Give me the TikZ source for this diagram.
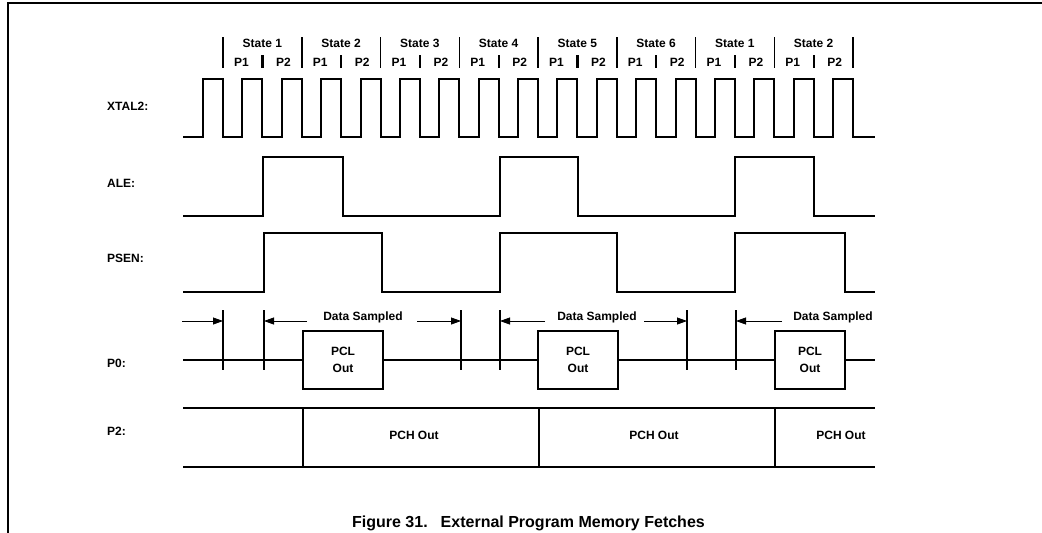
\documentclass[tikz,border=0pt]{standalone}
\usepackage{fontspec}
\setmainfont{Liberation Sans}
\usetikzlibrary{arrows.meta}
\begin{document}
\begin{tikzpicture}[x=1pt,y=-1pt,
  sig/.style={line width=2pt, line join=miter},
  bar/.style={line width=1.5pt},
  hbar/.style={line width=2.2pt},
  dim/.style={line width=0.8pt, -{Triangle[length=10pt,width=7pt]}},
  small/.style={font=\fontsize{12}{14}\selectfont\bfseries, inner sep=0pt, text height=8.6pt, text depth=0pt},
  sig label/.style={font=\fontsize{12}{14}\selectfont\bfseries, inner sep=0pt, anchor=west, text height=8.6pt, text depth=0pt},
  pclbox/.style={draw, line width=2pt, minimum height=58pt, inner sep=0pt, align=center,
     font=\fontsize{12}{16.5}\selectfont\bfseries},
  caption/.style={font=\fontsize{16}{18}\selectfont\bfseries, inner sep=0pt, text height=11.5pt, text depth=0pt}
]
\useasboundingbox (0,0) rectangle (1042,533);
% frame
\draw[line width=1.8pt] (8,533) -- (8,3) -- (1042,3);

% header
\foreach \i/\n in {0/1,1/2,2/3,3/4,4/5,5/6,6/1,7/2} {
  \pgfmathsetmacro\d{223+78.75*\i}
  \draw[bar] (\d,37) -- (\d,68);
  \draw[hbar] (\d+39.4,55) -- (\d+39.4,68);
  \node[small] (st\i) at (\d+39.4,43) {State \n};
  \node[small] (pa\i) at (\d+18.5,62) {P1};
  \node[small] (pb\i) at (\d+60.5,62) {P2};
}
\draw[bar] (853,37) -- (853,68);

% labels
\node[sig label] (lx) at (107,106) {XTAL2:};
\node[sig label] (la) at (107,183) {ALE:};
\node[sig label] (lp) at (107,258) {PSEN:};
\node[sig label] (l0) at (107,363) {P0:};
\node[sig label] (l2) at (107,431) {P2:};

% XTAL2 clock
\draw[sig] (183,137)
  \foreach \k in {0,...,16} {
    -- ({223+39.375*\k-20},137) -- ({223+39.375*\k-20},79)
    -- ({223+39.375*\k},79) -- ({223+39.375*\k},137)
  } -- (875,137);

% ALE
\draw[sig] (183,216) -- (263,216) -- (263,157) -- (343,157) -- (343,216)
  -- (500,216) -- (500,157) -- (578,157) -- (578,216)
  -- (735,216) -- (735,157) -- (814,157) -- (814,216) -- (875,216);

% PSEN
\draw[sig] (183,292) -- (264,292) -- (264,233) -- (382,233) -- (382,292)
  -- (500,292) -- (500,233) -- (617,233) -- (617,292)
  -- (735,292) -- (735,233) -- (845,233) -- (845,292) -- (875,292);

% P0
\node[pclbox, minimum width=80pt] (b1) at (343,360) {PCL\\Out};
\node[pclbox, minimum width=80pt] (b2) at (578,360) {PCL\\Out};
\node[pclbox, minimum width=70pt] (b3) at (810,360) {PCL\\Out};
\coordinate (p0s) at (183,360);
\coordinate (p0e) at (875,360);
\draw[sig] (p0s) -- (b1.west);
\draw[sig] (b1.east) -- (b2.west);
\draw[sig] (b2.east) -- (b3.west);
\draw[sig] (b3.east) -- (p0e);

% sample bars
\foreach \x/\n in {223/1,264/2,461/3,500/4,687/5,736/6} {
  \coordinate (bt\n) at (\x,310);
  \coordinate (bb\n) at (\x,370);
  \coordinate (ba\n) at (\x,321);
  \draw[bar] (bt\n) -- (bb\n);
}
\coordinate (s1) at (182,321);
\coordinate (s2) at (307,321);
\coordinate (s3) at (417,321);
\coordinate (s4) at (545,321);
\coordinate (s5) at (644,321);
\coordinate (s6) at (782,321);
\draw[dim] (s1) -- (ba1);
\draw[dim] (s2) -- (ba2);
\draw[dim] (s3) -- (ba3);
\draw[dim] (s4) -- (ba4);
\draw[dim] (s5) -- (ba5);
\draw[dim] (s6) -- (ba6);
\node[small] (ds1) at (363,316) {Data Sampled};
\node[small] (ds2) at (597,316) {Data Sampled};
\node[small] (ds3) at (833,316) {Data Sampled};

% P2
\draw[sig] (183,408) -- (875,408);
\draw[sig] (183,467) -- (875,467);
\draw[sig] (303,408) -- (303,467);
\draw[sig] (539,408) -- (539,467);
\draw[sig] (775,408) -- (775,467);
\node[small] (ph1) at (414,435) {PCH Out};
\node[small] (ph2) at (654,435) {PCH Out};
\node[small] (ph3) at (841,435) {PCH Out};

% caption
\node[caption] (cap) at (528.5,522) {Figure 31.\hspace{13pt}External Program Memory Fetches};
\end{tikzpicture}
\end{document}
